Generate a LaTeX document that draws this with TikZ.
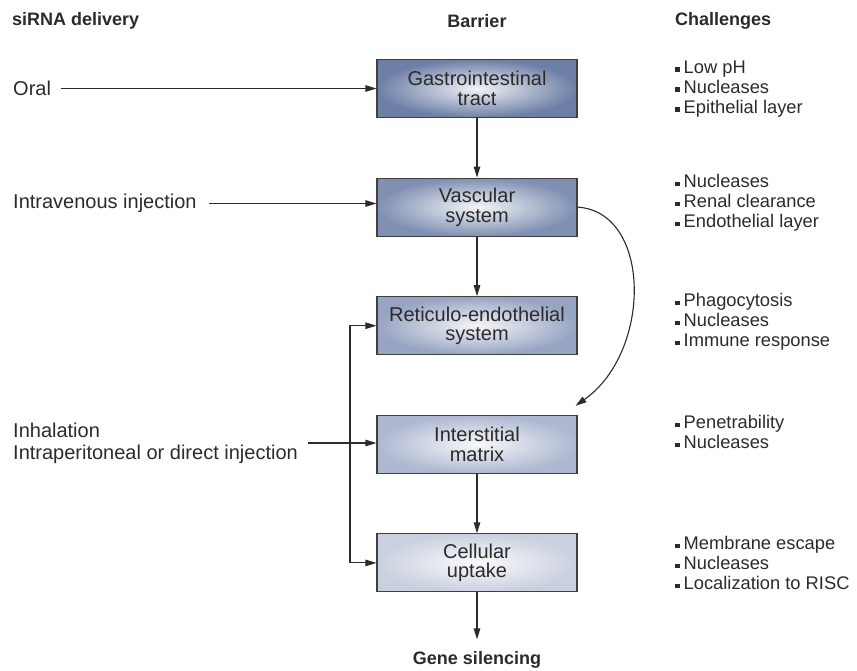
\documentclass[tikz,border=0pt]{standalone}
\usepackage{fontspec}
\setmainfont{Liberation Sans}
\usetikzlibrary{arrows.meta, positioning, calc}
\definecolor{inktext}{HTML}{2B2B2B}
\definecolor{barrierA}{HTML}{6E7FA6}
\definecolor{barrierB}{HTML}{8090B3}
\definecolor{barrierC}{HTML}{97A4C2}
\definecolor{barrierD}{HTML}{AEB8D0}
\definecolor{barrierE}{HTML}{CAD0DF}
\newcommand{\chalbullet}{\rule[1.5pt]{4.5pt}{4.5pt}\hspace{4pt}}

\begin{document}
\begin{tikzpicture}[
    x=1pt, y=-1pt,
    node distance=59.5pt,
    barrier/.style={rectangle, draw=inktext!90, line width=1.1pt,
                inner color=white!90!#1, outer color=#1,
                minimum width=200pt, minimum height=58pt, align=center,
                text=inktext, font=\fontsize{20}{19.5}\selectfont},
    heading/.style={inner sep=0pt, text=inktext,
                font=\bfseries\fontsize{18}{20}\selectfont},
    route/.style={anchor=west, inner sep=0pt, align=left, text=inktext,
                font=\fontsize{20}{22}\selectfont},
    challenge/.style={anchor=west, inner sep=0pt, align=left, text=inktext,
                font=\fontsize{18.3}{20}\selectfont},
    arrow/.style={-{Triangle[length=11pt, width=6.5pt]}, line width=1.1pt,
                color=inktext}
]
\useasboundingbox (0,0) rectangle (857,670);

\node[heading, anchor=west] (hdeliv) at (12,21) {siRNA delivery};
\node[heading] (hbarrier) at (477,21) {Barrier};
\node[heading, anchor=west] (hchal) at (675,21) {Challenges};

\node[barrier=barrierA] (gi) at (477,88.5) {Gastrointestinal\\tract};
\node[barrier=barrierB, below=of gi] (vasc) {Vascular\\system};
\node[barrier=barrierC, below=of vasc] (res) {Reticulo-endothelial\\system};
\node[barrier=barrierD, below=of res] (inter) {Interstitial\\matrix};
\node[barrier=barrierE, below=of inter] (cell) {Cellular\\uptake};
\node[heading] (gene) at (477,660) {Gene silencing};

\node[route] (oral) at (13,88.5) {Oral};
\node[route] (iv) at (13,203.5) {Intravenous injection};
\node[route] (local) at (13,443) {Inhalation\\Intraperitoneal or direct injection};
\coordinate (split) at (350,443);
\coordinate (bend) at ($(inter.north east)+(-2pt,9pt)$);

\node[challenge] (cgi) at (675,89) {\chalbullet Low pH\\\chalbullet Nucleases\\\chalbullet Epithelial layer};
\node[challenge] (cvasc) at (675,203) {\chalbullet Nucleases\\\chalbullet Renal clearance\\\chalbullet Endothelial layer};
\node[challenge] (cres) at (675,322) {\chalbullet Phagocytosis\\\chalbullet Nucleases\\\chalbullet Immune response};
\node[challenge] (cinter) at (675,432) {\chalbullet Penetrability\\\chalbullet Nucleases};
\node[challenge] (ccell) at (675,563) {\chalbullet Membrane escape\\\chalbullet Nucleases\\\chalbullet Localization to RISC};

\draw[arrow] (gi) -- (vasc);
\draw[arrow] (vasc) -- (res);
\draw[arrow] (inter) -- (cell);
\draw[arrow, shorten >=12pt] (cell) -- (gene);
\draw[arrow] (vasc.east) .. controls (652,212) and (652,352) .. (bend);

\draw[arrow, shorten <=10pt] (oral.east) -- (oral.east -| gi.west);
\draw[arrow, shorten <=12pt] (iv.east) -- (iv.east -| vasc.west);
\draw[arrow, shorten <=10pt] (local.east) -- (local.east -| inter.west);
\draw[arrow] (split) |- (res.west);
\draw[arrow] (split) |- (cell.west);

\end{tikzpicture}
\end{document}
